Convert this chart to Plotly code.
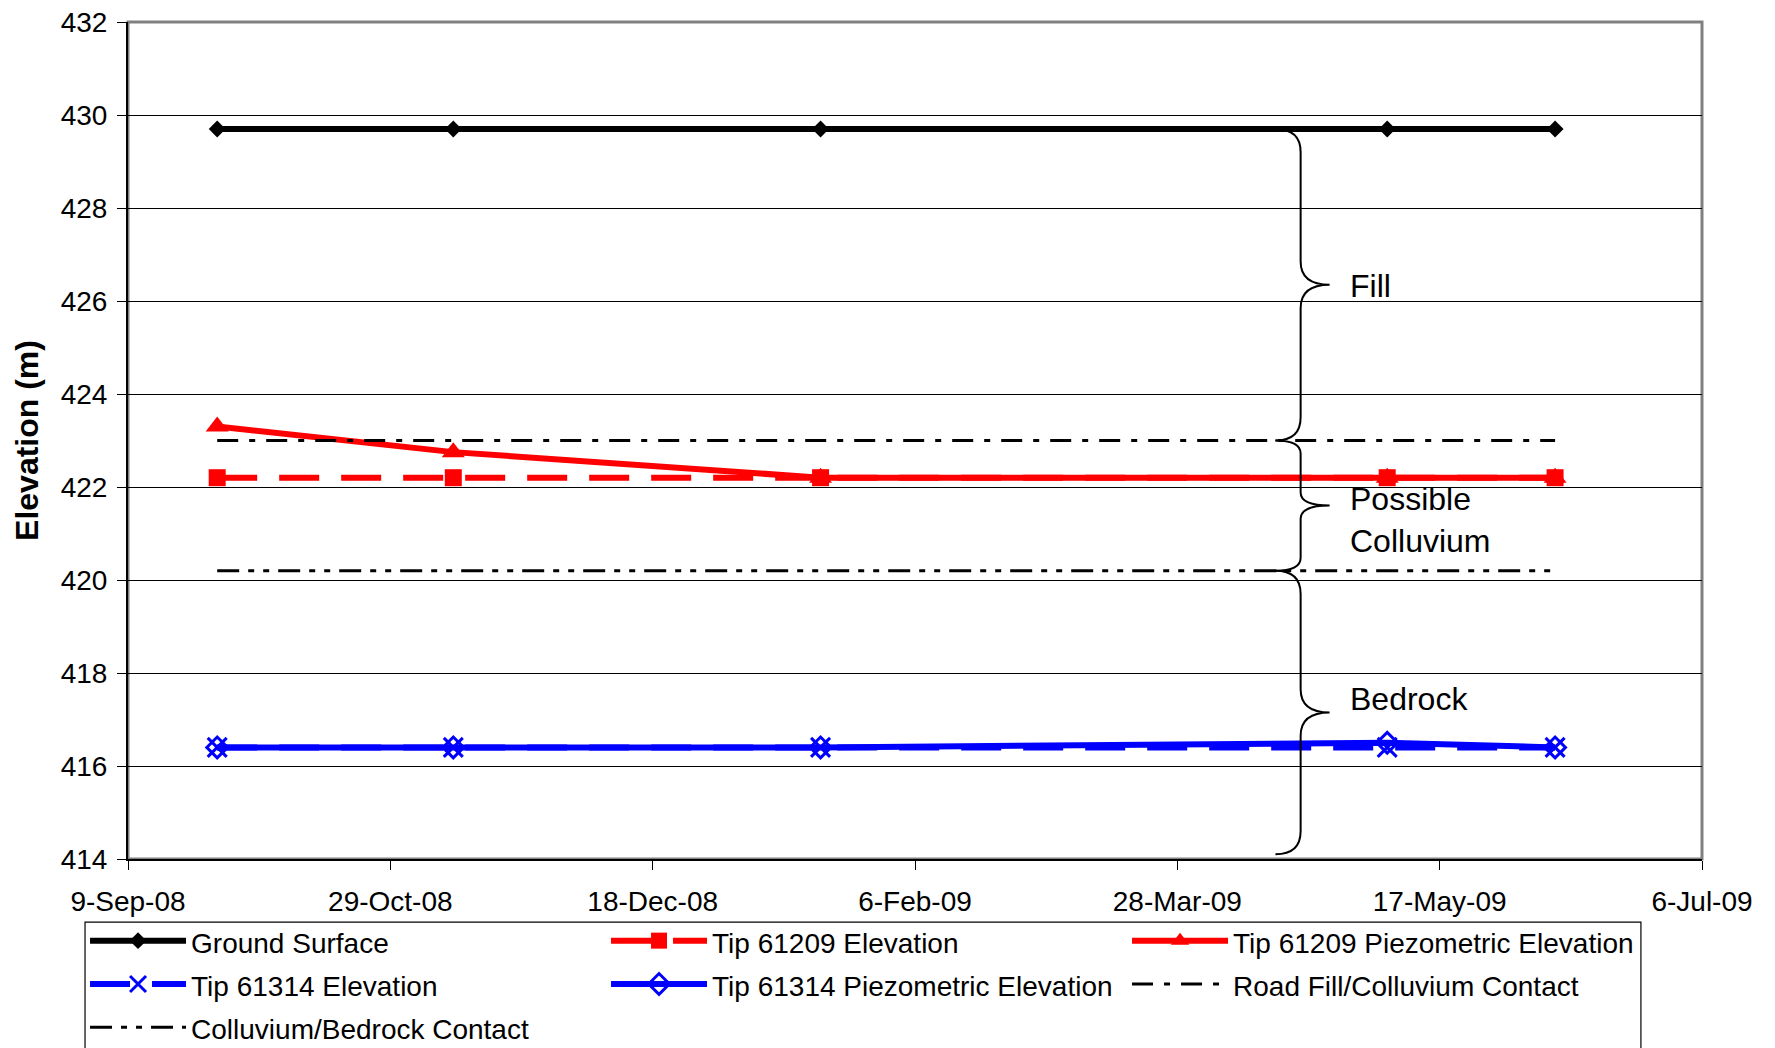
import plotly.graph_objects as go

# ---------------- data ----------------
dates = ["2008-09-26", "2008-11-10", "2009-01-19", "2009-05-07", "2009-06-08"]
ground_surface = [429.7, 429.7, 429.7, 429.7, 429.7]
tip61209_elev = [422.2, 422.2, 422.2, 422.2, 422.2]
tip61209_piezo = [423.3, 422.75, 422.2, 422.2, 422.2]
tip61314_elev = [416.4, 416.4, 416.4, 416.4, 416.4]
tip61314_piezo = [416.4, 416.4, 416.4, 416.5, 416.4]
road_fill_contact = [423.0, 423.0, 423.0, 423.0, 423.0]
colluvium_bedrock_contact = [420.2, 420.2, 420.2, 420.2, 420.2]

zone_labels = ["Fill", "Possible<br>Colluvium", "Bedrock"]
zone_label_y = [426.33, 421.29, 417.44]
# brace extents (top, bottom) in elevation
zone_top = [429.7, 423.0, 420.2]
zone_bottom = [423.0, 420.2, 414.1]
zone_curl = [0.5, 0.28, 0.5]

FONT = "Liberation Sans, Arial, sans-serif"
RED = "#FF0000"
BLUE = "#0000FF"


def lg(name):
    return f"<span style='font-size:28px'>{name}</span>"


fig = go.Figure()

fig.add_trace(go.Scatter(
    x=dates, y=ground_surface, name=lg("Ground Surface"), mode="lines+markers",
    line=dict(color="black", width=6),
    marker=dict(symbol="diamond", size=13, color="black")))
fig.add_trace(go.Scatter(
    x=dates, y=tip61209_elev, name=lg("Tip 61209 Elevation"), mode="lines+markers",
    line=dict(color=RED, width=6, dash="40px,22px"),
    marker=dict(symbol="square", size=17, color=RED)))
fig.add_trace(go.Scatter(
    x=dates, y=tip61209_piezo, name=lg("Tip 61209 Piezometric Elevation"), mode="lines+markers",
    line=dict(color=RED, width=6),
    marker=dict(symbol="triangle-up", size=20, color=RED)))
fig.add_trace(go.Scatter(
    x=dates, y=tip61314_elev, name=lg("Tip 61314 Elevation"), mode="lines+markers",
    line=dict(color=BLUE, width=6, dash="40px,22px"),
    marker=dict(symbol="x-thin", size=19, color=BLUE, line=dict(color=BLUE, width=3))))
fig.add_trace(go.Scatter(
    x=dates, y=tip61314_piezo, name=lg("Tip 61314 Piezometric Elevation"), mode="lines+markers",
    line=dict(color=BLUE, width=6),
    marker=dict(symbol="diamond-open", size=16, color=BLUE, line=dict(color=BLUE, width=3))))
fig.add_trace(go.Scatter(
    x=dates, y=road_fill_contact, name=lg("Road Fill/Colluvium Contact"), mode="lines",
    line=dict(color="black", width=3, dash="21px,11px,6px,11px")))
fig.add_trace(go.Scatter(
    x=dates, y=colluvium_bedrock_contact, name=lg("Colluvium/Bedrock Contact"), mode="lines",
    line=dict(color="black", width=3, dash="22px,9px,6px,9px,6px,9px")))

# ---------- braces (annotation shapes) ----------
x_end, x_vert, x_tip = 0.729, 0.745, 0.7634
for yt, yb, r in zip(zone_top, zone_bottom, zone_curl):
    ym = (yt + yb) / 2
    path = (f"M{x_end},{yt} Q{x_vert},{yt} {x_vert},{yt - r} "
            f"L{x_vert},{ym + r} Q{x_vert},{ym} {x_tip},{ym} "
            f"Q{x_vert},{ym} {x_vert},{ym - r} "
            f"L{x_vert},{yb + r} Q{x_vert},{yb} {x_end},{yb}")
    fig.add_shape(type="path", path=path, xref="paper", yref="y",
                  line=dict(color="black", width=2))

for txt, yy in zip(zone_labels, zone_label_y):
    fig.add_annotation(x=0.7754, y=yy, xref="paper", yref="y", text=txt,
                       showarrow=False, xanchor="left", yanchor="middle", align="left",
                       font=dict(family=FONT, size=32, color="black"))

# plot-area frame (gray), axes drawn on top in black
fig.add_shape(type="rect", xref="paper", yref="paper", x0=0, y0=0, x1=1, y1=1,
              line=dict(color="#808080", width=3), layer="below")
# legend frame
fig.add_shape(type="rect", xref="paper", yref="paper", x0=-0.0273, x1=0.9612,
              y0=-0.30, y1=-0.0753, line=dict(color="black", width=1.2),
              fillcolor="white", layer="below")

fig.update_layout(
    width=1775, height=1048,
    margin=dict(l=120, r=81, t=14, b=197, autoexpand=False),
    paper_bgcolor="white", plot_bgcolor="white",
    font=dict(family=FONT, size=28, color="black"),
    showlegend=True,
    legend=dict(
        orientation="h", x=-0.0273, y=-0.0657, xanchor="left", yanchor="top",
        xref="paper", yref="paper",
        borderwidth=0, bgcolor="rgba(0,0,0,0)",
        font=dict(family=FONT, size=31, color="black"),
        itemwidth=96, entrywidth=410, entrywidthmode="pixels",
        traceorder="normal", tracegroupgap=0,
    ),
    xaxis=dict(
        type="date", range=["2008-09-09", "2009-07-06"],
        tick0="2008-09-09", dtick=50 * 86400000, tickformat="%-d-%b-%y",
        showgrid=False, zeroline=False,
        showline=True, linecolor="black", linewidth=2,
        ticks="outside", ticklen=9, tickwidth=1, tickcolor="black",
        ticklabelstandoff=7, ticklabeloverflow="allow",
        tickfont=dict(family=FONT, size=28, color="black"),
    ),
    yaxis=dict(
        range=[414, 432], dtick=2, tick0=414,
        showgrid=True, gridcolor="black", gridwidth=1, zeroline=False,
        showline=True, linecolor="black", linewidth=2,
        ticks="outside", ticklen=9, tickwidth=1, tickcolor="black",
        ticklabelstandoff=4, ticklabeloverflow="allow",
        tickfont=dict(family=FONT, size=28, color="black"),
        title=dict(text="<b>Elevation (m)</b>", standoff=12,
                   font=dict(family=FONT, size=32, color="black")),
    ),
)

fig.write_html("out.html")
